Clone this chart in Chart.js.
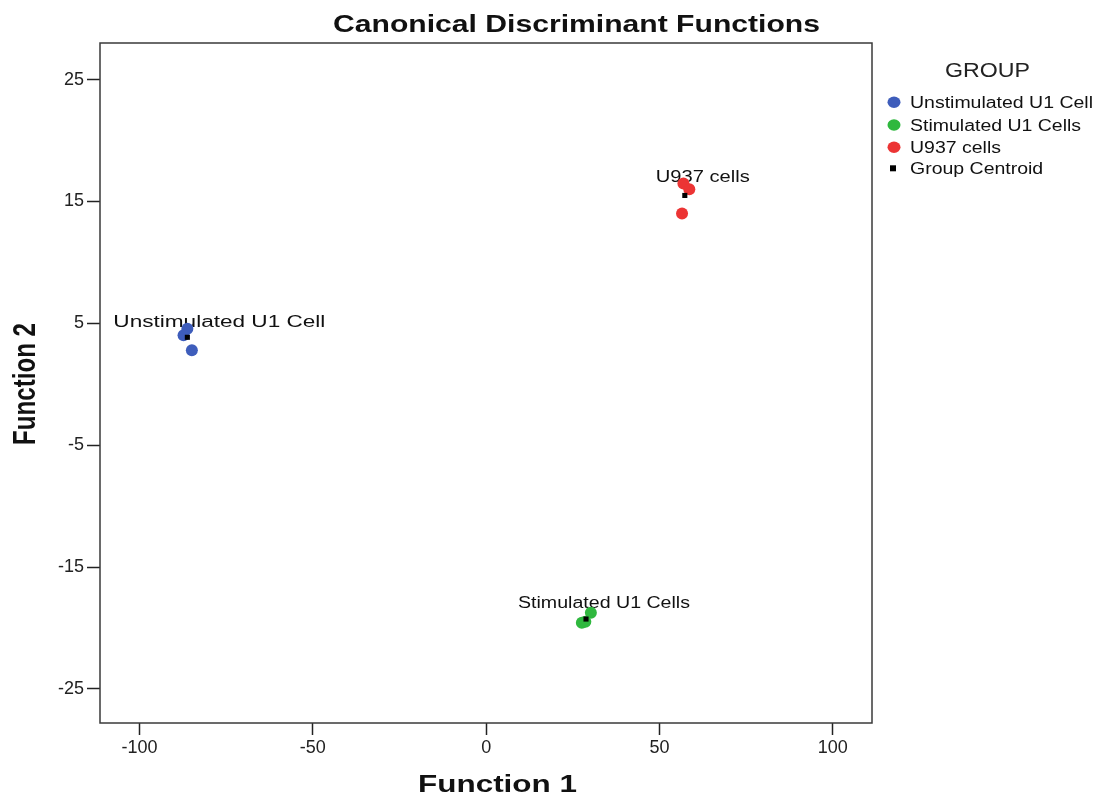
<!DOCTYPE html>
<html>
<head>
<meta charset="utf-8">
<script src="https://cdn.jsdelivr.net/npm/chart.js@4/dist/chart.umd.min.js"></script>
<style>
  html, body { margin: 0; padding: 0; background: #fff; }
  canvas { display: block; }
</style>
</head>
<body>
<canvas id="c" width="1095" height="796"></canvas>
<script>
// Discriminant scores per group (Function 1, Function 2)
const groupNames = ['Unstimulated U1 Cell', 'Stimulated U1 Cells', 'U937 cells'];
const unstimF1 = [-86.2, -87.3, -84.9];
const unstimF2 = [4.56, 4.01, 2.78];
const stimF1 = [30.2, 27.6, 28.6];
const stimF2 = [-18.75, -19.57, -19.49];
const u937F1 = [56.9, 58.6, 56.5];
const u937F2 = [16.48, 15.99, 14.01];
// Group centroids
const centroidF1 = [-86.2, 28.8, 57.3];
const centroidF2 = [3.85, -19.27, 15.49];
const xTicks = [-100, -50, 0, 50, 100];
const yTicks = [-25, -15, -5, 5, 15, 25];

const groupColors = ['#3E5DBB', '#2FB83E', '#EC3434'];
const toPts = (xs, ys) => xs.map((x, i) => ({ x: x, y: ys[i] }));
const FONT = '"Liberation Sans", Arial, sans-serif';

const scoreSets = [[unstimF1, unstimF2], [stimF1, stimF2], [u937F1, u937F2]];
const datasets = scoreSets.map((s, g) => ({
  label: groupNames[g],
  data: toPts(s[0], s[1]),
  backgroundColor: groupColors[g],
  borderColor: groupColors[g],
  pointRadius: 6,
  pointHoverRadius: 6,
  borderWidth: 0,
  order: 1
}));
// centroids are drawn over the group points
datasets.push({
  label: 'Group Centroid',
  data: toPts(centroidF1, centroidF2),
  backgroundColor: '#000',
  borderColor: '#000',
  pointStyle: 'rect',
  pointRadius: 3.6,
  pointHoverRadius: 3.6,
  borderWidth: 0,
  order: 0
});

// Draw text left-aligned on a baseline, widened horizontally to a given width.
function wideText(ctx, text, font, left, baseline, width) {
  ctx.save();
  ctx.font = font;
  ctx.textAlign = 'left';
  ctx.textBaseline = 'alphabetic';
  const sx = width / ctx.measureText(text).width;
  ctx.translate(left, baseline);
  ctx.scale(sx, 1);
  ctx.fillText(text, 0, 0);
  ctx.restore();
}

const decor = {
  id: 'decor',
  // centroid labels sit under the points
  beforeDatasetsDraw(chart) {
    const ctx = chart.ctx;
    const xs = chart.scales.x, ys = chart.scales.y;
    ctx.save();
    ctx.fillStyle = '#111';
    const labelPlace = [[-74, -10, 212], [-68, -10.7, 172], [-29, -13, 94]];
    groupNames.forEach((name, g) => {
      const px = xs.getPixelForValue(centroidF1[g]);
      const py = ys.getPixelForValue(centroidF2[g]);
      const p = labelPlace[g];
      wideText(ctx, name, '16px ' + FONT, px + p[0], py + p[1], p[2]);
    });
    ctx.restore();
  },
  afterDraw(chart) {
    const ctx = chart.ctx, a = chart.chartArea;
    ctx.save();
    // plot frame
    ctx.strokeStyle = '#3a3a3a';
    ctx.lineWidth = 1.5;
    ctx.strokeRect(a.left, a.top, a.right - a.left, a.bottom - a.top);

    ctx.fillStyle = '#111';
    // title
    wideText(ctx, 'Canonical Discriminant Functions', 'bold 23px ' + FONT, 333, 31.5, 487);
    // x axis title
    wideText(ctx, 'Function 1', 'bold 23px ' + FONT, 418, 791.5, 159);
    // y axis title (rotated, glyphs widened across the page)
    ctx.save();
    ctx.translate(35, 445);
    ctx.scale(1.3, 1);
    ctx.rotate(-Math.PI / 2);
    ctx.font = 'bold 24px ' + FONT;
    ctx.textAlign = 'left';
    ctx.textBaseline = 'alphabetic';
    const yw = ctx.measureText('Function 2').width;
    ctx.scale(122 / yw, 1);
    ctx.fillText('Function 2', 0, 0);
    ctx.restore();

    // legend
    ctx.fillStyle = '#222';
    wideText(ctx, 'GROUP', '21px ' + FONT, 945, 76.5, 85);
    ctx.font = '16px ' + FONT;
    const legendScale = 183 / ctx.measureText(groupNames[0]).width;
    const rows = [102.3, 125, 147.3, 168.3];
    chart.data.datasets.forEach((ds, i) => {
      const y = rows[i];
      ctx.fillStyle = ds.backgroundColor;
      if (ds.pointStyle === 'rect') {
        ctx.fillRect(890, y - 3, 6, 6);
      } else {
        ctx.beginPath();
        ctx.ellipse(894, y, 6.5, 5.7, 0, 0, Math.PI * 2);
        ctx.fill();
      }
      ctx.fillStyle = '#111';
      ctx.font = '16px ' + FONT;
      const w = ctx.measureText(ds.label).width * legendScale;
      wideText(ctx, ds.label, '16px ' + FONT, 910, y + 5.8, w);
    });
    ctx.restore();
  }
};

new Chart(document.getElementById('c'), {
  type: 'scatter',
  data: { datasets: datasets },
  options: {
    responsive: false,
    animation: false,
    events: [],
    layout: { padding: { top: 43, right: 223, left: 0, bottom: 0 } },
    plugins: { legend: { display: false }, tooltip: { enabled: false }, title: { display: false } },
    scales: {
      x: {
        type: 'linear',
        min: -111.4,
        max: 111.3,
        afterBuildTicks: s => { s.ticks = xTicks.map(v => ({ value: v })); },
        afterFit: s => { s.height = 73; },
        grid: { drawOnChartArea: false, drawTicks: true, tickLength: 12, tickColor: '#222', tickWidth: 1.5 },
        border: { display: false },
        ticks: { color: '#222', font: { family: FONT, size: 18 }, padding: 2, maxRotation: 0 }
      },
      y: {
        type: 'linear',
        min: -27.8,
        max: 28.0,
        afterBuildTicks: s => { s.ticks = yTicks.map(v => ({ value: v })); },
        afterFit: s => { s.width = 100; },
        grid: { drawOnChartArea: false, drawTicks: true, tickLength: 13, tickColor: '#222', tickWidth: 1.5 },
        border: { display: false },
        ticks: { color: '#222', font: { family: FONT, size: 18 }, padding: 3 }
      }
    }
  },
  plugins: [decor]
});
</script>
</body>
</html>
